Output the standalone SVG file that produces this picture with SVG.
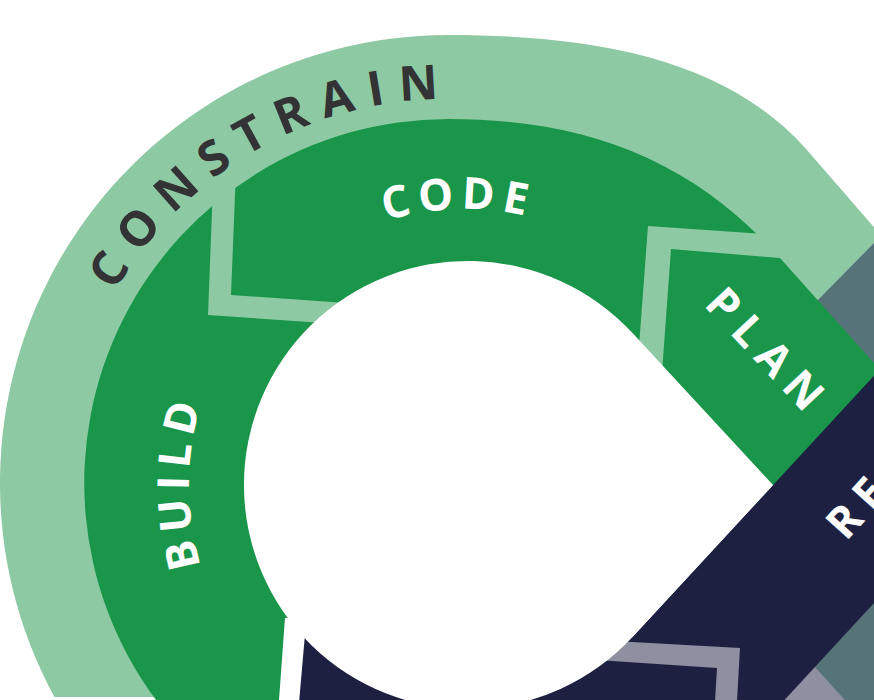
<svg xmlns="http://www.w3.org/2000/svg" width="874" height="700" viewBox="0 0 874 700">
<defs>
<style>
.lg{fill:#8dcaa4}
.dg{fill:#1a964a}
.nv{fill:#1e2041}
.sl{fill:#56737a}
.lv{fill:#8e8fa0}
.hole{fill:#ffffff}
.lbl{font-family:"Open Sans","Liberation Sans",sans-serif;font-weight:700;font-size:44px;letter-spacing:10px;fill:#ffffff}
.arc{letter-spacing:7px}
.con{font-family:"Open Sans","Liberation Sans",sans-serif;font-weight:700;font-size:48px;letter-spacing:14px;fill:#333335}
</style>
<path id="conArc" d="M 64,483 A 384 384 0 0 1 640,150.4"/>
<path id="ring" d="M 465,761 A 276 276 0 1 1 465,209 A 276 276 0 1 1 465,761"/>
</defs>
<rect width="874" height="700" fill="#ffffff"/>
<g id="constrain">
<path class="lg" d="M 54.4,697 A 448 448 0 0 1 448,35 C 598,35 728,60 807,150 L 930,292 L 930,440 L 775,268 C 692,175 588,131 448,131 A 352 352 0 0 0 168.5,697 Z"/>
</g>
<g id="right-loop">
<path class="sl" d="M 818,300 L 930,186 L 930,720 L 760,720 Z"/>
<path class="lv" d="M 815,667 L 853,709 L 740,709 Z"/>
</g>
<g id="inner-band">
<path class="dg" d="M 156,700 A 364 364 0 0 1 448,119 C 588,119 693,161 780,258 L 930,425.5 L 773,485 L 600,600 L 285,618 L 279,700 Z"/>
</g>
<g id="connectors">
<polygon class="lg" points="213.6,170 208,315 360,325.4 360,303.9 231,295 236,170"/>
<polygon class="lg" points="800,236.5 648,226 636.5,380 660,400 671,249 800,259.7"/>
</g>
<g id="release-band">
<path class="nv" d="M 960,282.7 L 632.5,637 L 470,560 L 308,600 L 297.5,720 L 766,720 L 960,510 Z"/>
<polygon class="lv" points="560,638 740,648 736.5,710 714.5,710 717,668 560,657.5"/>
</g>
<g id="hole">
<path class="hole" d="M 773,485 L 632.5,333 A 224 224 0 1 0 632.5,637 Z"/>
</g>
<g id="labels">
<text class="con"><textPath href="#conArc" startOffset="200">CONSTRAIN</textPath></text>
<g id="build"><text class="lbl arc"><textPath href="#ring" startOffset="351">BUILD</textPath></text></g>
<g id="code"><text class="lbl arc"><textPath href="#ring" startOffset="786">CODE</textPath></text></g>
<g id="plan"><text class="lbl" transform="translate(703,305) rotate(47)">PLAN</text></g>
<g id="release"><text class="lbl" transform="translate(846,542) rotate(-48)">RE</text></g>
</g>
</svg>
